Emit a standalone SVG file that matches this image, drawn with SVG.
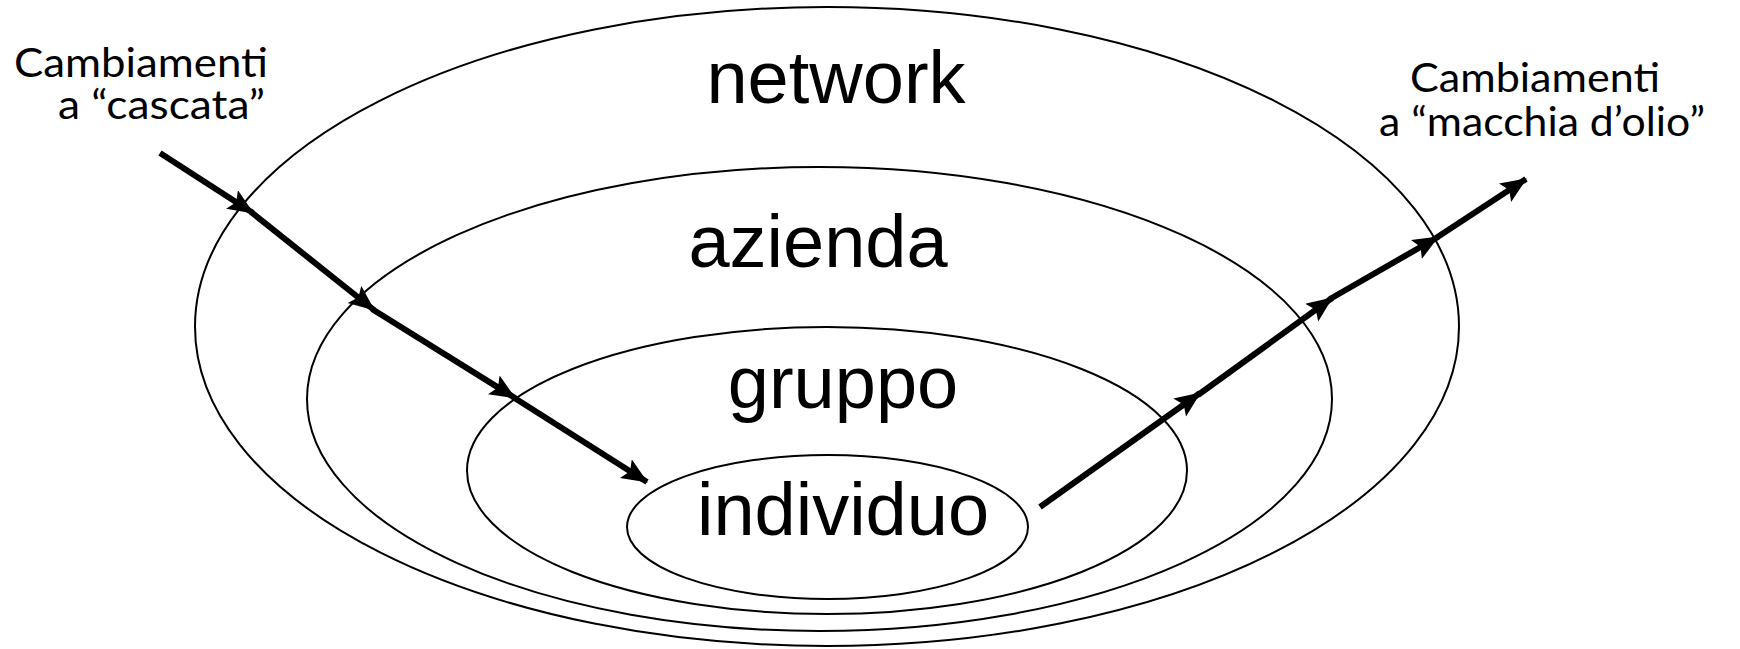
<svg xmlns="http://www.w3.org/2000/svg" width="1740" height="649" viewBox="0 0 1740 649">
  <style>
    .ring { fill: none; stroke: #000; stroke-width: 2; }
    .big { font-family: "Liberation Sans", Arial, sans-serif; font-size: 74px; fill: #000; text-anchor: middle; }
    .note { font-family: Lato, "Open Sans", sans-serif; font-size: 41px; fill: #000; }
    .flow { fill: none; stroke: #000; stroke-width: 6; marker-end: url(#head); }
  </style>
  <defs>
    <marker id="head" markerUnits="userSpaceOnUse" markerWidth="28" markerHeight="24" refX="25" refY="11" orient="auto">
      <path d="M0,0 L26,11 L0,22 L5,11 z" fill="#000"/>
    </marker>
  </defs>
  <rect width="1740" height="649" fill="#fff"/>

  <!-- nested levels, outermost first -->
  <g id="network">
    <ellipse class="ring" cx="827" cy="326.5" rx="632" ry="319.5"/>
    <text class="big" x="836" y="103">network</text>
  </g>
  <g id="azienda">
    <ellipse class="ring" cx="819.5" cy="399" rx="512.5" ry="232"/>
    <text class="big" x="818" y="267">azienda</text>
  </g>
  <g id="gruppo">
    <ellipse class="ring" cx="827" cy="470.5" rx="360" ry="143.5"/>
    <text class="big" x="843" y="408">gruppo</text>
  </g>
  <g id="individuo">
    <ellipse class="ring" cx="827.5" cy="527" rx="200.5" ry="72"/>
    <text class="big" x="843" y="535">individuo</text>
  </g>

  <!-- side captions -->
  <g id="cascata">
    <text class="note" x="14" y="77" textLength="254" lengthAdjust="spacingAndGlyphs">Cambiamenti</text>
    <text class="note" x="58" y="119" textLength="207" lengthAdjust="spacingAndGlyphs">a “cascata”</text>
  </g>
  <g id="macchia">
    <text class="note" x="1410" y="92" textLength="250" lengthAdjust="spacingAndGlyphs">Cambiamenti</text>
    <text class="note" x="1379" y="136" textLength="326" lengthAdjust="spacingAndGlyphs">a “macchia d’olio”</text>
  </g>

  <!-- connectors: inward cascade (left) and outward spread (right) -->
  <g id="connectors">
    <line class="flow" x1="160" y1="153" x2="253" y2="213"/>
    <line class="flow" x1="251" y1="212" x2="374" y2="310"/>
    <line class="flow" x1="372" y1="309" x2="515" y2="398"/>
    <line class="flow" x1="513" y1="397" x2="647" y2="482"/>

    <line class="flow" x1="1040" y1="507" x2="1200" y2="393"/>
    <line class="flow" x1="1198" y1="395" x2="1332" y2="298"/>
    <line class="flow" x1="1330" y1="299" x2="1438" y2="237"/>
    <line class="flow" x1="1436" y1="238" x2="1526" y2="179"/>
  </g>
</svg>
